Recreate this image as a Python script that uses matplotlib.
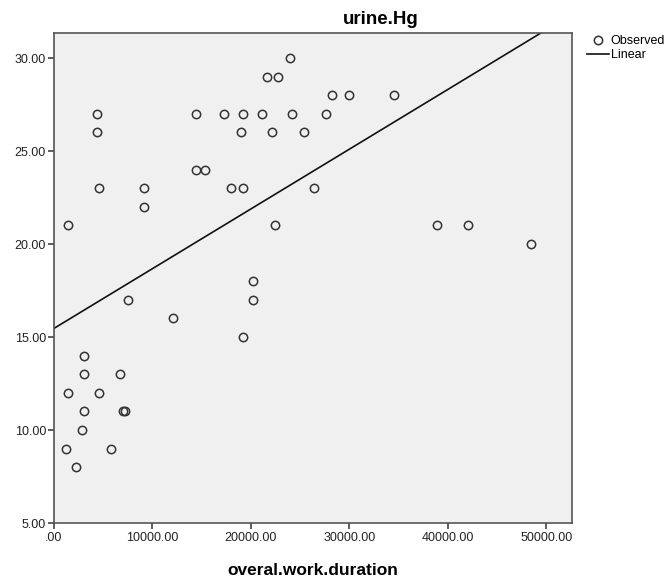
import numpy as np
import matplotlib.pyplot as plt
from matplotlib.ticker import FuncFormatter
from matplotlib.lines import Line2D

plt.rcParams['font.family'] = ['Liberation Sans', 'DejaVu Sans']

# overal.work.duration vs urine.Hg
work_duration = [4370, 4370, 4630, 9200, 9200, 1480, 14400, 14400, 7500, 12100,
                 3100, 3080, 6760, 1450, 4600, 3100, 7000, 7200, 2900, 1250,
                 5800, 2230, 24000, 21600, 22800, 28250, 30000, 17300, 19200, 21100,
                 24200, 27600, 19000, 22200, 25400, 15400, 18000, 19200, 26400, 22500,
                 20200, 20200, 19200, 34550, 38900, 42000, 48400]
urine_hg = [27, 26, 23, 23, 22, 21, 27, 24, 17, 16,
            14, 13, 13, 12, 12, 11, 11, 11, 10, 9,
            9, 8, 30, 29, 29, 28, 28, 27, 27, 27,
            27, 27, 26, 26, 26, 24, 23, 23, 23, 21,
            18, 17, 15, 28, 21, 21, 20]

x_ticks = [0, 10000, 20000, 30000, 40000, 50000]
y_ticks = [5, 10, 15, 20, 25, 30]


def spss_fmt(v, pos):
    s = '{:.2f}'.format(v)
    return s[1:] if s.startswith('0.') else s


fig = plt.figure(figsize=(6.71, 5.79), dpi=100)
ax = fig.add_axes([0.080, 0.0967, 0.7725, 0.8463])
ax.set_facecolor('#f0f0f0')

X = np.array(work_duration, dtype=float)
Y = np.array(urine_hg, dtype=float)
slope, intercept = np.polyfit(X, Y, 1)
xl = np.array([0, 52600])

ax.plot(X, Y, 'o', ms=6, mfc='none', mec='#333333', mew=1.1, zorder=3)
ax.plot(xl, intercept + slope*xl, color='#111111', lw=1.2, zorder=2)

ax.set_xlim(0, 52600)
ax.set_ylim(5, 31.35)
ax.set_xticks(x_ticks)
ax.set_yticks(y_ticks)
ax.xaxis.set_major_formatter(FuncFormatter(spss_fmt))
ax.yaxis.set_major_formatter(FuncFormatter(spss_fmt))
ax.tick_params(direction='out', length=4.5, width=1.1, pad=1,
               labelsize=9, colors='#333333', labelcolor='#222222')
ax.tick_params(axis='x', pad=2)
for sp in ax.spines.values():
    sp.set_color('#555555')
    sp.set_linewidth(1.2)

ax.set_xlabel('overal.work.duration', fontsize=12.5, fontweight='bold',
              labelpad=14)
fig.text(381/671, 1 - 19/579, 'urine.Hg', ha='center', va='center',
         fontsize=13.5, fontweight='bold')

handles = [Line2D([], [], ls='none', marker='o', ms=6, mfc='none',
                  mec='#333333', mew=1.1),
           Line2D([], [], color='#111111', lw=1.2)]
fig.legend(handles, ['Observed', 'Linear'], loc='upper left',
           bbox_to_anchor=(587/671, 1 - 35/579), frameon=False,
           fontsize=9, handlelength=1.75, handletextpad=0.15,
           labelspacing=0.2, borderpad=0, borderaxespad=0)

fig.savefig('out.png', dpi=100)
